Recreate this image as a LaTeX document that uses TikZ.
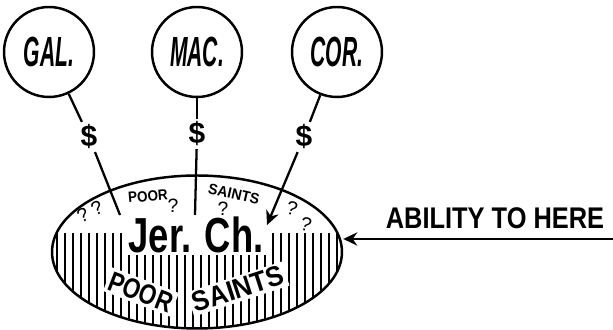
\documentclass[tikz,border=0pt]{standalone}
\usepackage{fontspec}
\setmainfont{Liberation Sans}
\usepackage{tikz}
\usetikzlibrary{
    arrows.meta,
    shapes.geometric
}
\newcommand{\squeeze}[2]{\scalebox{#1}[1]{#2}}

\begin{document}
\begin{tikzpicture}[
        x=0.02cm,
        y=-0.02cm,
        >={Stealth[length=8pt,width=7.5pt]},
        line width=1.3pt,
        church/.style={
            circle,
            draw,
            line width=1.4pt,
            minimum size=1.8cm,
            inner sep=0pt,
            font=\fontsize{24}{24}\selectfont\bfseries\itshape
        },
        money/.style={
            inner sep=1pt,
            font=\fontsize{17}{17}\selectfont\bfseries
        },
        query/.style={
            inner sep=0pt,
            font=\fontsize{11}{11}\selectfont
        },
        tiny/.style={
            inner sep=0pt,
            font=\fontsize{8.5}{8.5}\selectfont\bfseries
        },
        saints/.style={
            inner sep=1.5pt,
            fill=white,
            font=\fontsize{16}{16}\selectfont\bfseries
        },
        hatch/.style={line width=0.9pt}
    ]
        \useasboundingbox (0,0) rectangle (613,330);

        % churches giving
        \node[church] (gal) at (49,52) {\squeeze{0.5}{GAL.}};
        \node[church] (mac) at (197,52) {\squeeze{0.5}{MAC.}};
        \node[church] (cor) at (337,52) {\squeeze{0.5}{COR.}};
        \node[money] (galcash) at (89,137) {\$};
        \node[money] (maccash) at (197,134) {\$};
        \node[money] (corcash) at (304,137) {\$};

        % Jerusalem church
        \node[ellipse, draw, line width=1.4pt, minimum width=5.8cm,
            minimum height=3.06cm, inner sep=0pt] (jer) at (197,252) {};
        \begin{scope}
            \clip (jer.center) ellipse [x radius=145, y radius=76.5];
            \foreach \x in {57,65,...,337}
                \draw[hatch] (\x,233) -- (\x,332);
        \end{scope}
        \node[inner xsep=4pt, inner ysep=1pt, fill=white,
            font=\fontsize{28}{28}\selectfont\bfseries] (name) at (196,235)
            {\squeeze{0.74}{Jer. Ch.}};
        \node[tiny, rotate=5] (poor) at (148,196) {\squeeze{0.9}{POOR}};
        \node[tiny, rotate=-13] (saint) at (234,194) {\squeeze{0.95}{SAINTS}};
        \node[saints, rotate=-21] (poorlow) at (141,292) {\squeeze{0.8}{POOR}};
        \node[saints, rotate=18] (saintlow) at (238,289) {\squeeze{0.92}{SAINTS}};
        \node[query, rotate=25] (q1) at (83,215) {?};
        \node[query, rotate=25] (q2) at (97,208) {?};
        \node[query] (q3) at (173,206) {?};
        \node[query] (q4) at (223,209) {?};
        \node[query, rotate=-15] (q5) at (292,208) {?};
        \node[query, rotate=-15] (q6) at (306,224) {?};

        % ability
        \node[inner sep=0pt, font=\fontsize{17}{17}\selectfont\bfseries] (ability)
            at (495,218) {\squeeze{0.85}{ABILITY TO HERE}};
        \coordinate (herestart) at (613,239);

        \coordinate (galend) at (120,215);
        \coordinate (macend) at (195,215);
        \coordinate (corend) at (267,225);
        \draw (gal) -- (galcash);
        \draw (galcash) -- (galend);
        \draw (mac) -- (maccash);
        \draw (maccash) -- (macend);
        \draw (cor) -- (corcash);
        \draw[->] (corcash) -- (corend);
        \draw[->, line width=1.6pt] (herestart) -- (herestart -| jer.east);
    \end{tikzpicture}
\end{document}
